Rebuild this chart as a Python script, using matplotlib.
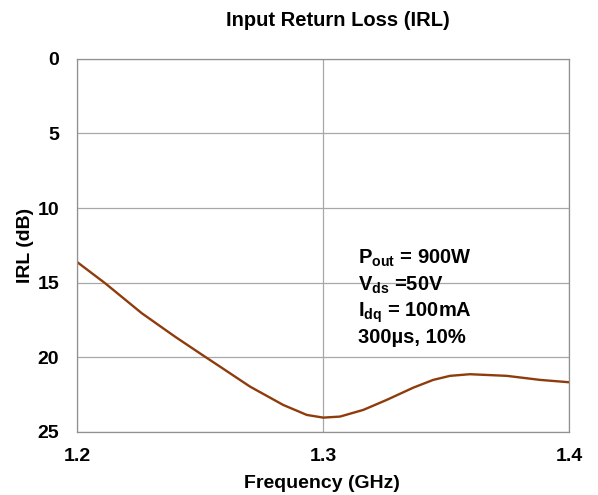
import matplotlib
matplotlib.use('Agg')
import matplotlib.pyplot as plt

freq_ghz = [1.2, 1.2113, 1.2262, 1.2397, 1.2512, 1.2580, 1.2702, 1.2837, 1.2933,
            1.3, 1.3068, 1.3163, 1.3258, 1.3366, 1.3447, 1.3515, 1.3596, 1.3746,
            1.3881, 1.4]
irl_db = [13.63, 15.04, 17.05, 18.62, 19.89, 20.63, 21.97, 23.20, 23.87,
          24.05, 23.98, 23.53, 22.86, 22.04, 21.52, 21.25, 21.14, 21.25,
          21.52, 21.68]

x_ticks = [1.2, 1.3, 1.4]
y_ticks = [0, 5, 10, 15, 20, 25]
notes = [r'P$_{out}$ = 900W', r'V$_{ds}$ =50V', r'I$_{dq}$ = 100mA', '300\u00b5s, 10%']

plt.rcParams['font.family'] = ['Liberation Sans', 'DejaVu Sans']
plt.rcParams['font.weight'] = 'bold'
plt.rcParams['mathtext.fontset'] = 'custom'
plt.rcParams['mathtext.rm'] = 'Liberation Sans:bold'
plt.rcParams['mathtext.it'] = 'Liberation Sans:bold'
plt.rcParams['mathtext.bf'] = 'Liberation Sans:bold'

fig = plt.figure(figsize=(5.98, 4.95), dpi=100)
ax = fig.add_axes([0.1293, 0.1277, 0.8227, 0.7533])

ax.plot(freq_ghz, irl_db, color='#8f3c0c', linewidth=1.7,
        solid_capstyle='round', solid_joinstyle='round')

ax.set_xlim(1.2, 1.4)
ax.set_ylim(25, 0)
ax.set_xticks(x_ticks)
ax.set_xticklabels([f'{t:.1f}' for t in x_ticks])
ax.set_yticks(y_ticks)
ax.grid(True, color='#a8a8a8', linewidth=0.9)
ax.tick_params(length=0, labelsize=14)
ax.tick_params(axis='x', pad=12)
ax.tick_params(axis='y', pad=13)
for s in ax.spines.values():
    s.set_color('#909090')
    s.set_linewidth(0.9)

# x label sits low enough that the bottom edge clips it, as in the source
fig.text(322 / 598, 1 - 475 / 495, 'Frequency (GHz)', ha='center', va='top',
         fontsize=14, fontweight='bold')
fig.text(25 / 598, 1 - 245 / 495, 'IRL (dB)', ha='center', va='center',
         rotation=90, fontsize=14, fontweight='bold')
fig.text(338 / 598, 1 - 20 / 495, 'Input Return Loss (IRL)', ha='center', va='center',
         fontsize=14.5, fontweight='bold')

for i, line in enumerate(notes):
    ax.text(1.3141, 13.75 + i * 1.77, line, fontsize=14.5, fontweight='bold',
            ha='left', va='baseline')

fig.savefig('out.png', dpi=100)
